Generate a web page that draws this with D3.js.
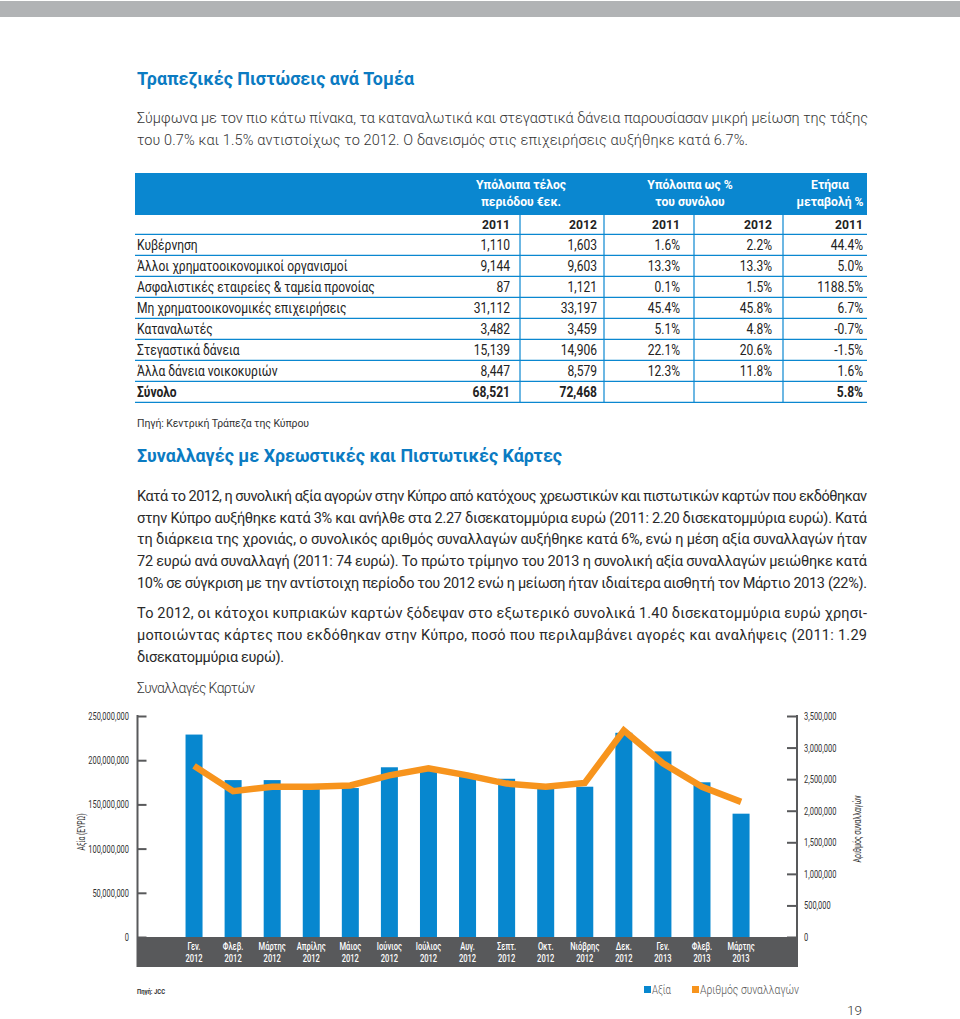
<!DOCTYPE html>
<html><head><meta charset="utf-8">
<script src="https://cdn.jsdelivr.net/npm/d3@7"></script>
<style>body{margin:0;background:#fff} svg{display:block}</style>
</head><body><svg id="c" width="960" height="1019"></svg>
<script>
// ---------- DATA ----------
const sectors = ["Κυβέρνηση","Άλλοι χρηματοοικονομικοί οργανισμοί","Ασφαλιστικές εταιρείες & ταμεία προνοίας","Μη χρηματοοικονομικές επιχειρήσεις","Καταναλωτές","Στεγαστικά δάνεια","Άλλα δάνεια νοικοκυριών","Σύνολο"];
const bal2011 = [1110, 9144, 87, 31112, 3482, 15139, 8447, 68521];
const bal2012 = [1603, 9603, 1121, 33197, 3459, 14906, 8579, 72468];
const share2011 = [1.6, 13.3, 0.1, 45.4, 5.1, 22.1, 12.3, null];
const share2012 = [2.2, 13.3, 1.5, 45.8, 4.8, 20.6, 11.8, null];
const change2011 = [44.4, 5.0, 1188.5, 6.7, -0.7, -1.5, 1.6, 5.8];
const tableYears = ["2011","2012","2011","2012","2011"];

const months = ["Γεν.","Φλεβ.","Μάρτης","Απρίλης","Μάιος","Ιούνιος","Ιούλιος","Αυγ.","Σεπτ.","Οκτ.","Νιόβρης","Δεκ.","Γεν.","Φλεβ.","Μάρτης"];
const monthYears = ["2012","2012","2012","2012","2012","2012","2012","2012","2012","2012","2012","2012","2013","2013","2013"];
const valueEUR = [229e6, 177.5e6, 177.5e6, 168e6, 168.5e6, 192e6, 190e6, 182e6, 179e6, 168e6, 170e6, 231e6, 210e6, 175e6, 139.5e6];
const txCount = [2.71e6, 2.31e6, 2.38e6, 2.38e6, 2.40e6, 2.56e6, 2.67e6, 2.56e6, 2.43e6, 2.38e6, 2.44e6, 3.27e6, 2.75e6, 2.38e6, 2.14e6];
const leftTicks = [0, 50e6, 100e6, 150e6, 200e6, 250e6];
const rightTicks = [0, 500000, 1000000, 1500000, 2000000, 2500000, 3000000, 3500000];

// ---------- STYLE ----------
const BLUE = "#0a87d0", TITLE = "#0b7bc2", ORANGE = "#f7941d", BAR = "#0787cf", GREY = "#58595b", TXT = "#2b2b2b";
const F = "Roboto, 'Noto Sans', sans-serif";

const svg = d3.select("#c");
svg.append("rect").attr("x",0).attr("y",1).attr("width",960).attr("height",16).attr("fill","#b1b3b5");

function condense(sel, f) {
  sel.each(function () {
    const w = this.getComputedTextLength();
    d3.select(this).attr("textLength", w * f).attr("lengthAdjust", "spacingAndGlyphs");
  });
  return sel;
}
function txt(x, y, s, o) {
  const t = svg.append("text").attr("x", x).attr("y", y).attr("dy", "0.35em").text(s)
    .attr("font-family", o.ff || F).attr("font-size", o.fs).attr("font-weight", o.fw || 400)
    .attr("fill", o.fill || TXT).attr("text-anchor", o.anchor || "start");
  if (o.tl) t.attr("textLength", o.tl).attr("lengthAdjust", o.la || "spacing");
  if (o.cf) condense(t, o.cf);
  return t;
}

// Titles & paragraphs
txt(137, 78, "Τραπεζικές Πιστώσεις ανά Τομέα", {fs: 19, fw: 700, fill: TITLE, tl: 277, la: "spacingAndGlyphs"});
const para1 = [["Σύμφωνα με τον πιο κάτω πίνακα, τα καταναλωτικά και στεγαστικά δάνεια παρουσίασαν μικρή μείωση της τάξης", 868],
               ["του 0.7% και 1.5% αντιστοίχως το 2012.  Ο δανεισμός στις επιχειρήσεις αυξήθηκε κατά 6.7%.", 748]];
para1.forEach((l, i) => txt(137, 118 + i * 21.5, l[0], {fs: 14.5, fw: 300, fill: "#333", tl: l[1] - 137}));

txt(137, 455, "Συναλλαγές με Χρεωστικές και Πιστωτικές Κάρτες", {fs: 19, fw: 700, fill: TITLE, tl: 425, la: "spacingAndGlyphs"});
const para2 = [["Κατά το 2012, η συνολική αξία αγορών στην Κύπρο από κατόχους χρεωστικών και πιστωτικών καρτών που εκδόθηκαν", 867],
  ["στην Κύπρο αυξήθηκε κατά 3% και ανήλθε στα 2.27 δισεκατομμύρια ευρώ (2011: 2.20 δισεκατομμύρια ευρώ). Κατά", 867],
  ["τη διάρκεια της χρονιάς, ο συνολικός αριθμός συναλλαγών αυξήθηκε κατά 6%, ενώ η μέση αξία συναλλαγών ήταν", 867],
  ["72 ευρώ ανά συναλλαγή (2011: 74 ευρώ). Το πρώτο τρίμηνο του 2013 η συνολική αξία συναλλαγών μειώθηκε κατά", 867],
  ["10% σε σύγκριση με την αντίστοιχη περίοδο του 2012 ενώ η μείωση ήταν ιδιαίτερα αισθητή τον Μάρτιο 2013 (22%).", 867]];
para2.forEach((l, i) => txt(137, 496 + i * 21.7, l[0], {fs: 14.5, fw: 400, fill: "#2a2a2a", tl: l[1] - 137}));
const para3 = [["Το 2012, οι κάτοχοι κυπριακών καρτών ξόδεψαν στο εξωτερικό συνολικά 1.40 δισεκατομμύρια ευρώ χρησι-", 867],
  ["μοποιώντας κάρτες που εκδόθηκαν στην Κύπρο, ποσό που περιλαμβάνει αγορές και αναλήψεις (2011: 1.29", 867],
  ["δισεκατομμύρια ευρώ).", 284]];
para3.forEach((l, i) => txt(137, 613 + i * 22, l[0], {fs: 14.5, fw: 400, fill: "#2a2a2a", tl: l[1] - 137}));
txt(137, 688, "Συναλλαγές Καρτών", {fs: 14, fw: 300, fill: "#333", tl: 118});

// ---------- TABLE ----------
const tL = 135, tR = 867;
const colRight = [510, 597, 680, 772, 863];
const rowTop = 234.3, rowH = 21;
svg.append("rect").attr("x", tL).attr("y", 173).attr("width", tR - tL).attr("height", 42).attr("fill", BLUE);
const hdr = [[521, "Υπόλοιπα τέλος", "περιόδου €εκ."], [690, "Υπόλοιπα ως %", "του συνόλου"], [830, "Ετήσια", "μεταβολή %"]];
hdr.forEach(h => {
  txt(h[0], 184, h[1], {fs: 13.5, fw: 700, fill: "#fff", anchor: "middle", cf: 0.9});
  txt(h[0], 201, h[2], {fs: 13.5, fw: 700, fill: "#fff", anchor: "middle", cf: 0.9});
});
tableYears.forEach((y, i) => txt(colRight[i], 224, y, {fs: 13.5, fw: 700, anchor: "end", fill: "#222", cf: 0.9}));
[520, 604, 694, 783].forEach(x => svg.append("line").attr("x1", x).attr("x2", x).attr("y1", 215).attr("y2", rowTop + rowH * sectors.length)
  .attr("stroke", BLUE).attr("stroke-width", 1.2));
d3.range(sectors.length + 1).forEach(i => svg.append("line").attr("x1", tL).attr("x2", tR)
  .attr("y1", rowTop + i * rowH).attr("y2", rowTop + i * rowH).attr("stroke", BLUE).attr("stroke-width", 1.3));
const fmtN = d3.format(","), fmtP = v => v == null ? "" : d3.format(".1f")(v).replace("−", "-") + "%";
sectors.forEach((s, i) => {
  const y = rowTop + i * rowH + rowH / 2;
  const bold = i === sectors.length - 1 ? 700 : 400;
  txt(137, y, s, {fs: 14, fw: bold, fill: "#222", cf: 0.86});
  const vals = [fmtN(bal2011[i]), fmtN(bal2012[i]), fmtP(share2011[i]), fmtP(share2012[i]), fmtP(change2011[i])];
  vals.forEach((v, j) => { if (v) txt(colRight[j], y, v, {fs: 14, fw: bold, fill: "#222", anchor: "end", cf: 0.86}); });
});
txt(137, 423, "Πηγή: Κεντρική Τράπεζα της Κύπρου", {fs: 10.5, fw: 400, fill: "#333", tl: 172});

// ---------- CHART ----------
const xL = 137.5, xR = 797, y0 = 937, yTop = 716;
const x = d3.scaleBand().domain(d3.range(months.length)).range([174.5, 760.6]);
const yL = d3.scaleLinear().domain([0, 250e6]).range([y0, yTop]);
const yR = d3.scaleLinear().domain([0, 3.5e6]).range([y0, yTop]);
const bw = 17;
const g = svg.append("g");
g.selectAll("rect.bar").data(valueEUR).join("rect").attr("class", "bar")
  .attr("x", (d, i) => x(i) + x.bandwidth() / 2 - bw / 2).attr("width", bw)
  .attr("y", d => yL(d)).attr("height", d => y0 - yL(d)).attr("fill", BAR);
g.append("path").datum(txCount)
  .attr("d", d3.line().x((d, i) => x(i) + x.bandwidth() / 2).y(d => yR(d)))
  .attr("fill", "none").attr("stroke", ORANGE).attr("stroke-width", 6.5).attr("stroke-linejoin", "miter");
g.append("rect").attr("x", xL).attr("y", y0).attr("width", xR - xL).attr("height", 30).attr("fill", GREY);
months.forEach((m, i) => {
  const cx = x(i) + x.bandwidth() / 2;
  txt(cx, 946, m, {fs: 10.5, fw: 500, fill: "#fff", anchor: "middle", cf: 0.72});
  txt(cx, 958, monthYears[i], {fs: 10.5, fw: 500, fill: "#fff", anchor: "middle", cf: 0.72});
});
const axL = d3.axisLeft(yL).tickValues(leftTicks).tickFormat(d3.format(",")).tickSizeInner(-9).tickSizeOuter(0).tickPadding(8.5);
const axR = d3.axisRight(yR).tickValues(rightTicks).tickFormat(d3.format(",")).tickSizeInner(-10).tickSizeOuter(0).tickPadding(7);
const gL = svg.append("g").attr("transform", `translate(${xL},0)`).call(axL);
const gR = svg.append("g").attr("transform", `translate(${xR},0)`).call(axR);
[gL, gR].forEach(a => {
  a.select(".domain").remove();
  a.selectAll(".tick line").attr("stroke", GREY).attr("stroke-width", 2);
  a.selectAll(".tick text").attr("font-family", F).attr("font-size", 11).attr("fill", "#333");
  condense(a.selectAll(".tick text"), 0.68);
  a.append("line").attr("x1", 0).attr("x2", 0).attr("y1", yTop - 1).attr("y2", y0 + 30).attr("stroke", GREY).attr("stroke-width", 2);
});
svg.append("text").attr("transform", "translate(81,832) rotate(-90)").attr("text-anchor", "middle").attr("dy", "0.35em")
  .attr("font-family", F).attr("font-size", 11).attr("fill", "#333").attr("textLength", 37).attr("lengthAdjust", "spacingAndGlyphs").text("Αξία (ΕΥΡΩ)");
svg.append("text").attr("transform", "translate(857,829) rotate(-90)").attr("text-anchor", "middle").attr("dy", "0.35em")
  .attr("font-family", F).attr("font-size", 11).attr("fill", "#333").attr("textLength", 67).attr("lengthAdjust", "spacingAndGlyphs").text("Αριθμός συναλλαγών");

// footer & legend
txt(137, 991, "Πηγή: JCC", {fs: 8, fw: 700, fill: "#333", tl: 28, la: "spacingAndGlyphs"});
const legend = [["Αξία", BAR, 644, 19], ["Αριθμός συναλλαγών", ORANGE, 692, 99]];
legend.forEach(l => {
  svg.append("rect").attr("x", l[2]).attr("y", 986).attr("width", 7).attr("height", 7).attr("fill", l[1]);
  txt(l[2] + 8, 990, l[0], {fs: 12.5, fw: 300, fill: "#555", tl: l[3], la: "spacingAndGlyphs"});
});
txt(862, 1010, "19", {fs: 13.5, fw: 300, fill: "#333", anchor: "end"});
</script></body></html>
